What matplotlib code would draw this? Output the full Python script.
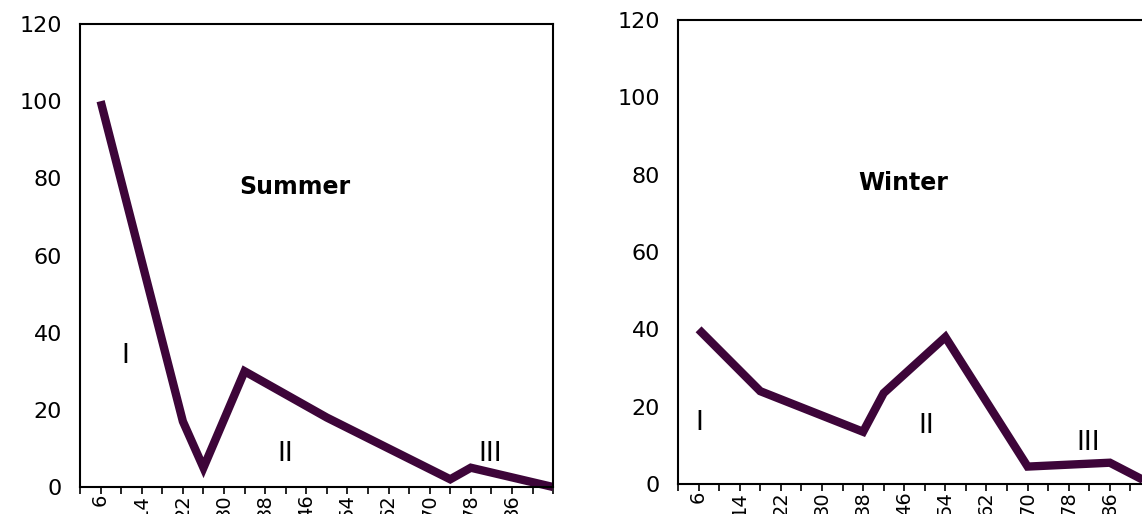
import matplotlib
matplotlib.use("Agg")
import matplotlib.pyplot as plt
from matplotlib.ticker import MultipleLocator, FixedLocator

# depth / position values
summer_x = [6, 22, 26, 34, 50, 74, 78, 94]
summer_y = [100, 17, 5, 30, 18, 2, 5, 0]

winter_x = [6, 18, 38, 42, 54, 70, 86, 94]
winter_y = [40, 24, 13.5, 23.5, 38, 4.5, 5.5, 0]

tick_labels = [6, 14, 22, 30, 38, 46, 54, 62, 70, 78, 86]

# zone labels: (text, x, y)
summer_zones = [("I", 10.8, 34), ("II", 42, 8.5), ("III", 81.7, 8.5)]
winter_zones = [("I", 6.2, 15.7), ("II", 50.3, 15), ("III", 81.7, 10.7)]

line_color = "#3d0539"

plt.rcParams['font.family'] = ['DejaVu Sans']

fig = plt.figure(figsize=(11.42, 5.14), dpi=100)
ax1 = fig.add_axes([0.0701, 0.0525, 0.4142, 0.9008])
ax2 = fig.add_axes([0.5937, 0.0584, 0.4142, 0.9027])


def style_axis(ax, xs, ys, title, tx, ty, zones):
    ax.plot(xs, ys, color=line_color, lw=6, solid_joinstyle='miter',
            solid_capstyle='butt', clip_on=False)
    ax.set_xlim(2, 94)
    ax.set_ylim(0, 120)
    ax.yaxis.set_major_locator(MultipleLocator(20))
    ax.tick_params(axis='y', length=0, pad=13, labelsize=16)
    ax.xaxis.set_major_locator(FixedLocator(tick_labels))
    ax.set_xticklabels([str(v) for v in tick_labels], rotation=90)
    ax.tick_params(axis='x', which='both', direction='out', length=5,
                   width=1.2, labelsize=14, pad=0)
    ax.xaxis.set_minor_locator(FixedLocator(list(range(2, 95, 4))))
    for s in ax.spines.values():
        s.set_linewidth(1.5)
        s.set_color('black')
    ax.text(tx, ty, title, ha='center', va='center', fontsize=17,
            fontweight='bold')
    for t, x, y in zones:
        ax.text(x, y, t, ha='center', va='center', fontsize=19)


style_axis(ax1, summer_x, summer_y, "Summer", 43.7, 77.8, summer_zones)
style_axis(ax2, winter_x, winter_y, "Winter", 45.8, 77.8, winter_zones)

fig.savefig("out.png", dpi=100)
